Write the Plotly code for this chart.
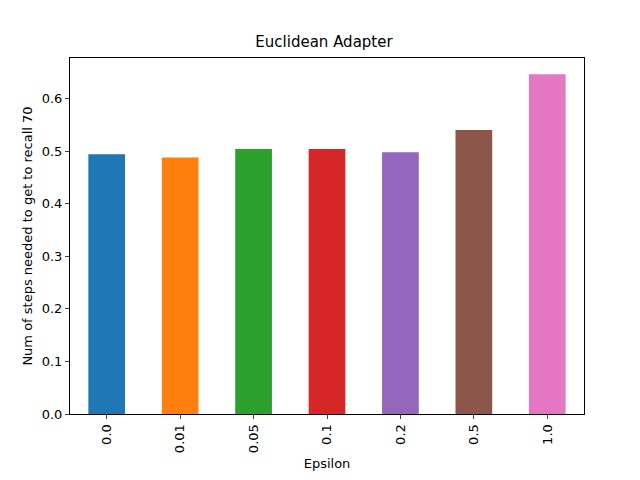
import plotly.graph_objects as go

categories = ["0.0", "0.01", "0.05", "0.1", "0.2", "0.5", "1.0"]
values = [0.494, 0.488, 0.504, 0.504, 0.498, 0.540, 0.646]
colors = ["#1f77b4", "#ff7f0e", "#2ca02c", "#d62728", "#9467bd", "#8c564b", "#e377c2"]

fig = go.Figure(go.Bar(x=categories, y=values, marker=dict(color=colors, line=dict(width=0)), width=0.5))
fig.update_layout(
    width=632, height=472, margin=dict(l=62, r=56, t=50, b=62),
    plot_bgcolor="white", paper_bgcolor="white",
    font=dict(family="DejaVu Sans", size=13, color="black"),
    title=dict(text="Euclidean Adapter", x=0.5, xanchor="center", y=1 - 28/472, yanchor="top", font=dict(size=15)),
    showlegend=False,
)
fig.update_xaxes(title=dict(text="Epsilon", standoff=6, font=dict(size=13)), type="category", range=[-0.5, 6.5],
                 tickangle=-90, ticks="outside", ticklen=4, showline=True, linecolor="black", mirror=True,
                 showgrid=False, tickfont=dict(size=13))
fig.update_yaxes(title=dict(text="Num of steps needed to get to recall 70", standoff=6, font=dict(size=13)), range=[0, 0.677],
                 dtick=0.1, tickformat=".1f", ticks="outside", ticklen=4, showline=True, linecolor="black",
                 mirror=True, showgrid=False, zeroline=False, tickfont=dict(size=13))
fig.write_html("out.html")
